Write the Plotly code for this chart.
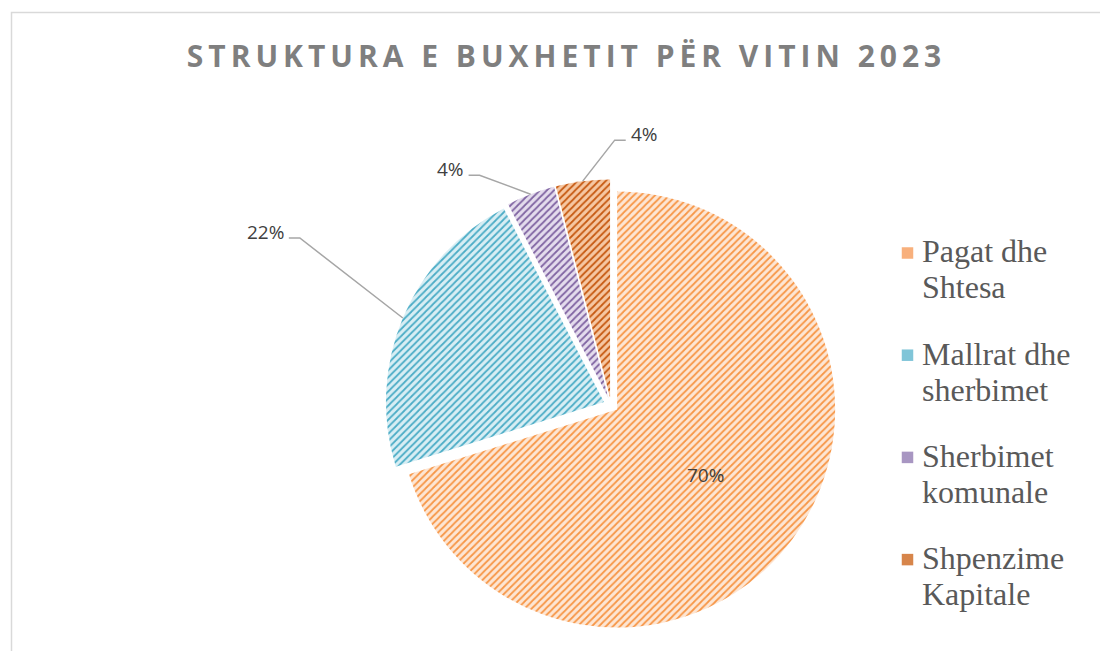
import math
import plotly.graph_objects as go

# ---------------- data ----------------
categories = ["Pagat dhe Shtesa", "Mallrat dhe sherbimet", "Sherbimet komunale", "Shpenzime Kapitale"]
legend_lines = [["Pagat dhe", "Shtesa"], ["Mallrat dhe", "sherbimet"],
                ["Sherbimet", "komunale"], ["Shpenzime", "Kapitale"]]
values = [70.2, 22.2, 3.6, 4.0]
pct_text = ["70%", "22%", "4%", "4%"]
title_text = "STRUKTURA E BUXHETIT PËR VITIN 2023"

# ---------------- style ----------------
fg_colors = ["#F79646", "#4BACC6", "#8064A2", "#C65911"]
bg_colors = ["#FDE6D4", "#D8EEF4", "#E4DCED", "#F6C7A2"]
swatch_colors = ["#F8B07C", "#80C5D8", "#A896C2", "#D7854A"]
W, H = 1108, 651
OFF = 8                               # page offset of the figure (body margin)
CX, CY, R = 611.0, 405.0, 218.0      # pie centre / radius in px
PULL = 0.035
# label placement: (elbow dx, elbow dy from arc point, side) ; None -> inside
label_style = [None, (-103, -80, "left"), (-51, -19, "left"), (32, -41, "right")]
TAIL = 11
LINE_COLOR = "#A6A6A6"
LABEL_FONT = dict(family="Open Sans, Lato, sans-serif", size=19, color="#404040")
LEG_FONT = dict(family="Liberation Serif, Times New Roman, serif", size=32, color="#595959")
LEG_X_TEXT, LEG_X_SW = 920, 907.5
LEG_BASE0, LEG_STEP, LEG_LINE = 262, 102.2, 36
SW = 11.5


def px(x):
    return (x - OFF) / W


def py(y):
    return 1 - (y - OFF) / H


half = R * (1 + PULL)
domain_x = [px(CX - half), px(CX + half)]
domain_y = [py(CY + half), py(CY - half)]

spaced_title = "\u2009".join(list(title_text))

fig = go.Figure()
fig.add_trace(go.Pie(
    labels=categories,
    values=values,
    sort=False,
    direction="clockwise",
    rotation=0,
    pull=[PULL] * len(values),
    textinfo="none",
    hoverinfo="label+percent",
    showlegend=False,
    domain=dict(x=domain_x, y=domain_y),
    marker=dict(
        colors=bg_colors,
        line=dict(color="white", width=0),
        pattern=dict(shape="/", fgcolor=fg_colors, bgcolor=bg_colors,
                     size=5, solidity=0.35, fillmode="replace"),
    ),
))

# ---------- data labels computed from the values ----------
total = sum(values)
cum = 0.0
annotations = []
shapes = []
for i, v in enumerate(values):
    mid = (cum + v / 2) / total * 2 * math.pi
    cum += v
    dx, dy = math.sin(mid), -math.cos(mid)
    ox, oy = CX + PULL * R * dx, CY + PULL * R * dy   # slice centre after pull
    st = label_style[i]
    if st is None:
        lx, ly = ox + 0.505 * R * dx, oy + 0.505 * R * dy
        annotations.append(dict(x=px(lx), y=py(ly), xref="paper", yref="paper",
                                text=pct_text[i], showarrow=False, font=LABEL_FONT,
                                xanchor="center", yanchor="middle"))
        continue
    sx, sy = ox + R * dx, oy + R * dy
    ex, ey = sx + st[0], sy + st[1]
    sign = -1 if st[2] == "left" else 1
    tx = ex + sign * TAIL
    shapes.append(dict(type="path", xref="paper", yref="paper",
                       path=f"M{px(sx)},{py(sy)} L{px(ex)},{py(ey)} L{px(tx)},{py(ey)}",
                       line=dict(color=LINE_COLOR, width=1.5)))
    annotations.append(dict(x=px(tx + sign * 3), y=py(ey - 6), xref="paper", yref="paper",
                            text=pct_text[i], showarrow=False, font=LABEL_FONT,
                            xanchor="right" if sign < 0 else "left", yanchor="middle"))

# ---------- legend (built from the category list) ----------
for k, lines in enumerate(legend_lines):
    base = LEG_BASE0 + k * LEG_STEP
    sy = base - 9
    shapes.append(dict(type="rect", xref="paper", yref="paper",
                       x0=px(LEG_X_SW - SW / 2), x1=px(LEG_X_SW + SW / 2),
                       y0=py(sy + SW / 2), y1=py(sy - SW / 2),
                       fillcolor=swatch_colors[k], line=dict(width=0)))
    for j, line in enumerate(lines):
        b = base + j * LEG_LINE
        annotations.append(dict(x=px(LEG_X_TEXT), y=py(b - 0.33 * LEG_FONT["size"]),
                                xref="paper", yref="paper", text=line, showarrow=False,
                                font=LEG_FONT, xanchor="left", yanchor="middle"))

# chart-area border
shapes.append(dict(type="rect", xref="paper", yref="paper",
                   x0=px(11.5), x1=px(W + 20), y0=py(H + 20), y1=py(12.5),
                   line=dict(color="#D9D9D9", width=1.5), fillcolor="rgba(0,0,0,0)",
                   layer="below"))

fig.update_layout(
    width=W, height=H,
    margin=dict(l=0, r=0, t=0, b=0),
    paper_bgcolor="white",
    plot_bgcolor="white",
    showlegend=False,
    title=dict(text=spaced_title, x=px(556 + OFF), xanchor="center",
               y=py(48 + OFF), yanchor="middle", yref="container",
               font=dict(family="Open Sans, sans-serif", size=30, color="#7F7F7F",
                         weight="bold")),
    annotations=annotations,
    shapes=shapes,
)

fig.write_html("out.html")
